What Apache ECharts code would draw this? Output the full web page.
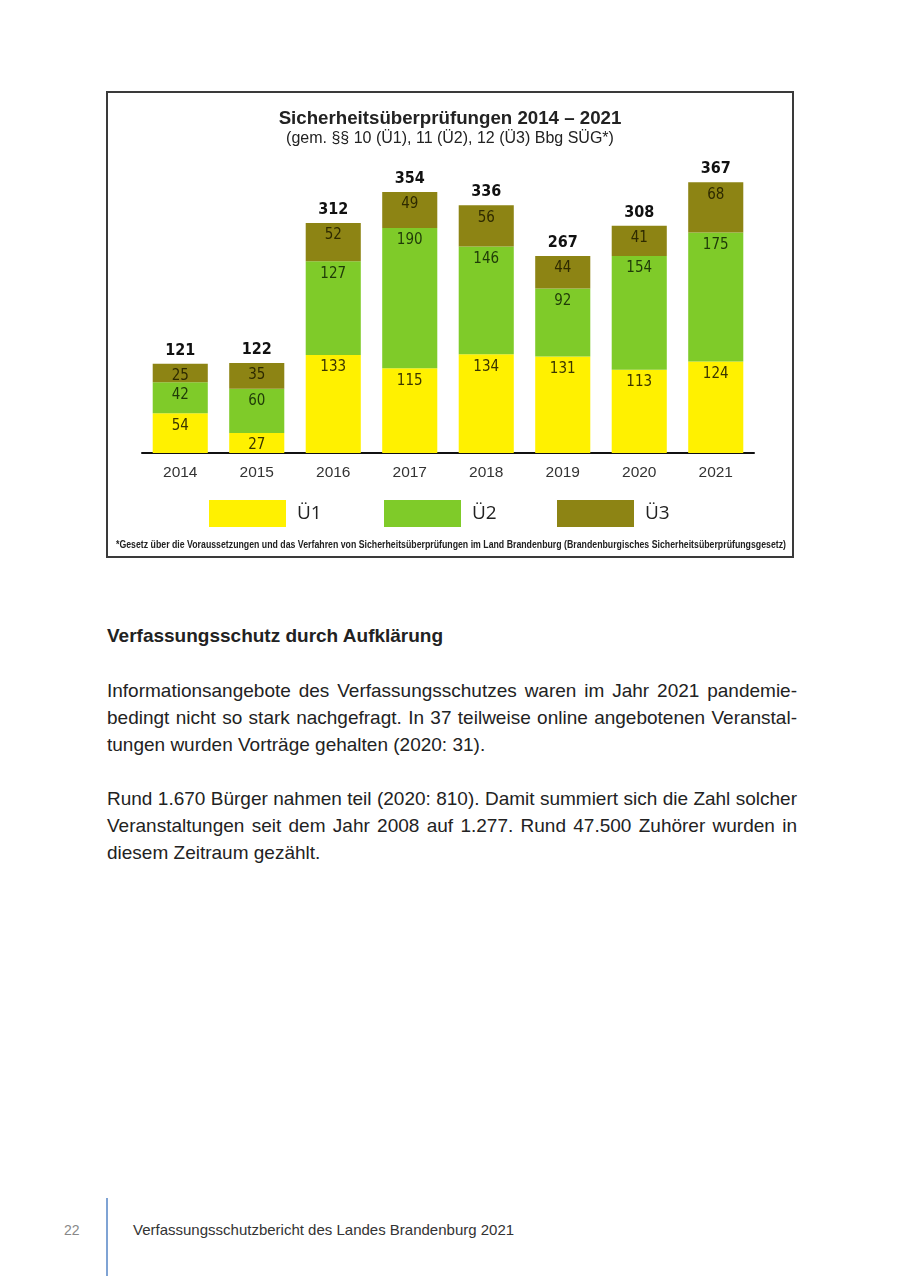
<!DOCTYPE html>
<html>
<head>
<meta charset="utf-8">
<script src="https://cdn.jsdelivr.net/npm/echarts@6/dist/echarts.min.js"></script>
<style>
  html, body { margin:0; padding:0; background:#fff; }
  body { width:900px; height:1276px; position:relative; overflow:hidden; font-family:"Liberation Sans", Arial, sans-serif; color:#222; }
  #box { position:absolute; left:106px; top:91px; width:688px; height:467px; box-sizing:border-box; border:2px solid #3a3a3a; }
  #chart { position:absolute; left:107px; top:92px; width:686px; height:465px; }
  #foot { position:absolute; left:116px; top:538px; font-size:10.5px; line-height:12px; font-weight:bold; color:#222; white-space:nowrap; transform-origin:0 0; }
  #heading { position:absolute; left:107px; top:625px; font-size:19px; font-weight:bold; color:#222; }
  .para { position:absolute; left:107px; width:690px; font-size:19px; line-height:27px; color:#222; }
  .para span { display:block; text-align:justify; text-align-last:justify; white-space:nowrap; }
  .para span.last { text-align-last:left; }
  #pnum { position:absolute; left:64px; top:1222px; font-size:14px; color:#888; }
  #vline { position:absolute; left:106px; top:1198px; width:2px; height:78px; background:#7fa3d4; }
  #ftext { position:absolute; left:133px; top:1221px; font-size:15px; color:#333; }
</style>
</head>
<body>
<div id="box"></div>
<div id="chart"></div>
<div id="foot">*Gesetz über die Voraussetzungen und das Verfahren von Sicherheitsüberprüfungen im Land Brandenburg (Brandenburgisches Sicherheitsüberprüfungsgesetz)</div>
<div id="heading">Verfassungsschutz durch Aufklärung</div>
<div class="para" style="top:677px;">
  <span>Informationsangebote des Verfassungsschutzes waren im Jahr 2021 pandemie-</span>
  <span>bedingt nicht so stark nachgefragt. In 37 teilweise online angebotenen Veranstal-</span>
  <span class="last">tungen wurden Vorträge gehalten (2020: 31).</span>
</div>
<div class="para" style="top:785px;">
  <span>Rund 1.670 Bürger nahmen teil (2020: 810). Damit summiert sich die Zahl solcher</span>
  <span>Veranstaltungen seit dem Jahr 2008 auf 1.277. Rund 47.500 Zuhörer wurden in</span>
  <span class="last">diesem Zeitraum gezählt.</span>
</div>
<div id="pnum">22</div>
<div id="vline"></div>
<div id="ftext">Verfassungsschutzbericht des Landes Brandenburg 2021</div>
<script>
const years = ['2014','2015','2016','2017','2018','2019','2020','2021'];
const u1 = [54, 27, 133, 115, 134, 131, 113, 124];
const u2 = [42, 60, 127, 190, 146, 92, 154, 175];
const u3 = [25, 35, 52, 49, 56, 44, 41, 68];
const seriesNames = ['Ü1', 'Ü2', 'Ü3'];
const colors = ['#FFF100', '#7FCB29', '#8D8414'];
const totals = years.map((_, i) => u1[i] + u2[i] + u3[i]);

// fit footnote into the box width (condensed look)
const foot = document.getElementById('foot');
const fw = foot.getBoundingClientRect().width;
foot.style.transform = 'scaleX(' + (670 / fw) + ')';

const narrow = '"Liberation Sans Narrow", "DejaVu Sans Condensed", "Liberation Sans", sans-serif';

const chart = echarts.init(document.getElementById('chart'), null, { renderer: 'canvas' });

function segLabel(color) {
  return { show: true, position: 'insideTop', distance: 5, fontFamily: narrow, fontSize: 15, color: color };
}

const option = {
  backgroundColor: 'transparent',
  animation: false,
  title: [
    { text: 'Sicherheitsüberprüfungen 2014 – 2021', left: 'center', top: 12,
      textStyle: { fontFamily: '"Liberation Sans", Arial, sans-serif', fontSize: 18.7, fontWeight: 'bold', color: '#222' } },
    { text: '(gem. §§ 10 (Ü1), 11 (Ü2), 12 (Ü3) Bbg SÜG*)', left: 'center', top: 34,
      textStyle: { fontFamily: '"Liberation Sans", Arial, sans-serif', fontSize: 16, fontWeight: 'normal', color: '#222' } }
  ],
  legend: [0, 1, 2].map(i => ({
    data: [seriesNames[i]],
    left: [97, 272, 445][i],
    top: 403,
    itemWidth: 77,
    itemHeight: 27,
    itemGap: 0,
    icon: 'rect',
    selectedMode: false,
    textStyle: { fontFamily: '"Open Sans", sans-serif', fontSize: 19, color: '#222', padding: [0, 0, 0, 6] }
  })),
  grid: { left: 35, right: 39, top: 66, height: 295 },
  xAxis: {
    type: 'category',
    data: years,
    axisLine: { lineStyle: { color: '#111', width: 2 } },
    axisTick: { show: false },
    axisLabel: { fontFamily: '"Liberation Sans", Arial, sans-serif', fontSize: 15.5, color: '#333', margin: 12 }
  },
  yAxis: { type: 'value', min: 0, max: 400, show: false, splitLine: { show: false } },
  series: [
    { name: 'Ü1', type: 'bar', stack: 't', data: u1, barCategoryGap: '28%', itemStyle: { color: colors[0] }, label: segLabel('#3a3500') },
    { name: 'Ü2', type: 'bar', stack: 't', data: u2, itemStyle: { color: colors[1] }, label: segLabel('#1f3a08') },
    { name: 'Ü3', type: 'bar', stack: 't', data: u3, itemStyle: { color: colors[2] }, label: segLabel('#2e2a00') },
    { name: 'Summe', type: 'bar', stack: 't', data: years.map(() => 0), itemStyle: { color: 'transparent' },
      label: { show: true, position: 'top', distance: 5, fontFamily: narrow, fontSize: 16, fontWeight: 'bold', color: '#111',
        formatter: p => String(totals[p.dataIndex]) } }
  ]
};
chart.setOption(option);
</script>
</body>
</html>
